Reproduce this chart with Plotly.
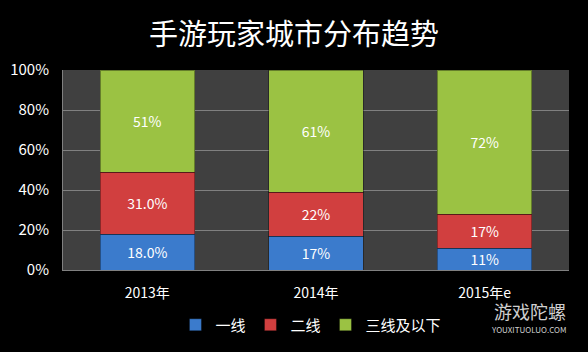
import plotly.graph_objects as go

categories = ["2013年", "2014年", "2015年e"]
tier1 = [18, 17, 11]
tier2 = [31, 22, 17]
tier3 = [51, 61, 72]
tier1_labels = ["18.0%", "17%", "11%"]
tier2_labels = ["31.0%", "22%", "17%"]
tier3_labels = ["51%", "61%", "72%"]
series_names = ["一线", "二线", "三线及以下"]
colors = ["#3b7bcc", "#d13f3f", "#9bc243"]

font_family = "Noto Sans CJK SC, Liberation Sans, sans-serif"

fig = go.Figure()
for vals, labels, name, col in zip([tier1, tier2, tier3],
                                   [tier1_labels, tier2_labels, tier3_labels],
                                   series_names, colors):
    fig.add_trace(go.Bar(
        x=categories, y=vals, name=name, text=labels,
        textposition="inside", insidetextanchor="middle", constraintext="none",
        textfont=dict(color="white", size=14, family=font_family),
        marker=dict(color=col, line=dict(color="rgba(0,0,0,0.35)", width=1)),
        hoverinfo="skip",
    ))

L, R, T, B = 63, 19, 70, 82
PW, PH = 588 - L - R, 352 - T - B

fig.update_layout(
    barmode="stack",
    bargap=0.44,
    width=588, height=352,
    margin=dict(l=L, r=R, t=T, b=B, autoexpand=False),
    paper_bgcolor="black",
    plot_bgcolor="#404040",
    title=dict(text="手游玩家城市分布趋势", x=0.5, xanchor="center", y=0.9, yanchor="middle",
               font=dict(color="white", size=29, family=font_family)),
    font=dict(color="white", family=font_family, size=14),
    showlegend=True,
    legend=dict(orientation="h", x=0.49, xanchor="center", y=-0.275, yanchor="middle",
                font=dict(color="white", size=15), itemwidth=30,
                bgcolor="rgba(0,0,0,0)", traceorder="normal"),
    yaxis=dict(range=[0, 100], tickvals=[0, 20, 40, 60, 80, 100],
               ticktext=["0%", "20%", "40%", "60%", "80%", "100%"],
               gridcolor="#808080", gridwidth=1, zeroline=False, automargin=False,
               showline=True, linecolor="#808080", ticklabelstandoff=10,
               tickfont=dict(color="white", size=15)),
    xaxis=dict(showline=True, linecolor="#808080", tickfont=dict(color="white", size=14),
               ticks="", ticklabelstandoff=10, automargin=False),
)

fig.add_annotation(text="游戏陀螺", x=(530 - L) / PW, y=-(311 - 270) / PH,
                   xref="paper", yref="paper", xanchor="center", yanchor="middle",
                   showarrow=False, font=dict(color="#cfcfcf", size=18, family=font_family))
fig.add_annotation(text="YOUXITUOLUO.COM", x=(528 - L) / PW, y=-(329 - 270) / PH,
                   xref="paper", yref="paper", xanchor="center", yanchor="middle",
                   showarrow=False, font=dict(color="#cfcfcf", size=8, family=font_family))

fig.write_html("out.html")
